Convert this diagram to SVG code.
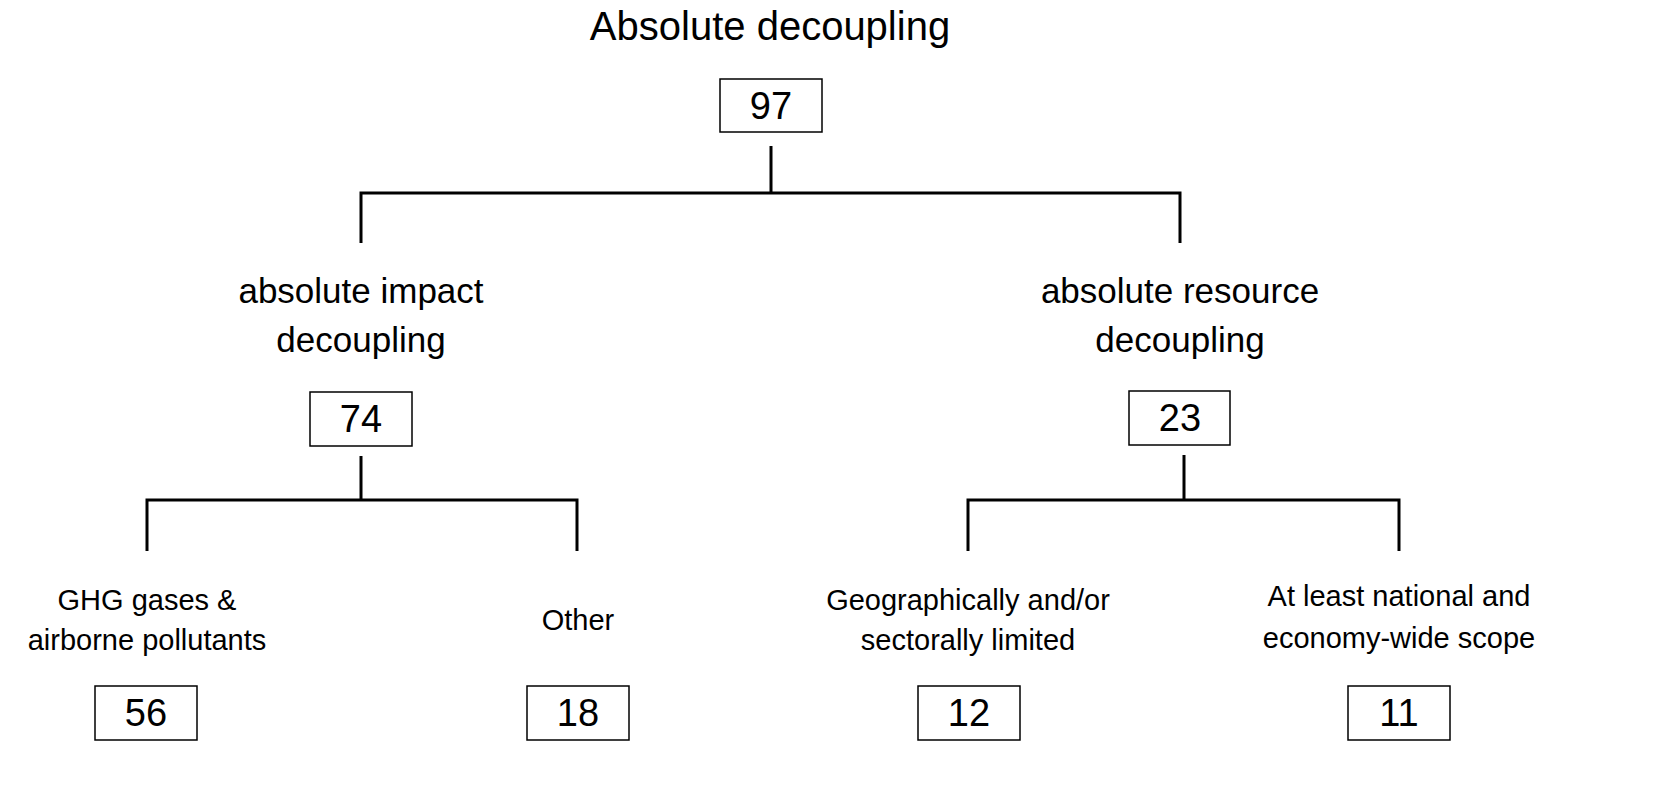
<svg xmlns="http://www.w3.org/2000/svg" width="1667" height="805" viewBox="0 0 1667 805">
<style>
text{font-family:"Liberation Sans",Arial,sans-serif;fill:#000;text-anchor:middle}
.t{font-size:40px}.m{font-size:35px}.s{font-size:29px}.n{font-size:38px}
.b{fill:#fff;stroke:#000;stroke-width:1.5}
path{fill:none;stroke:#000;stroke-width:3}
</style>
<rect width="1667" height="805" fill="#fff"/>
<g id="connectors">
<path d="M771 146V193M361 243V193H1180V243"/>
<path d="M361 456V500M147 551V500H577V551"/>
<path d="M1184 455V500M968 551V500H1399V551"/>
</g>
<g id="root"><text class="t" x="770" y="40">Absolute decoupling</text><rect class="b" x="720" y="79" width="102" height="53"/><text class="n" x="771" y="119">97</text></g>
<g id="impact"><text class="m" x="361" y="303">absolute impact</text><text class="m" x="361" y="352">decoupling</text><rect class="b" x="310" y="392" width="102" height="54"/><text class="n" x="361" y="432">74</text></g>
<g id="resource"><text class="m" x="1180" y="303">absolute resource</text><text class="m" x="1180" y="352">decoupling</text><rect class="b" x="1129" y="391" width="101" height="54"/><text class="n" x="1180" y="431">23</text></g>
<g id="ghg"><text class="s" x="147" y="610">GHG gases &amp;</text><text class="s" x="147" y="650">airborne pollutants</text><rect class="b" x="95" y="686" width="102" height="54"/><text class="n" x="146" y="726">56</text></g>
<g id="other"><text class="s" x="578" y="630">Other</text><rect class="b" x="527" y="686" width="102" height="54"/><text class="n" x="578" y="726">18</text></g>
<g id="geo"><text class="s" x="968" y="610">Geographically and/or</text><text class="s" x="968" y="650">sectorally limited</text><rect class="b" x="918" y="686" width="102" height="54"/><text class="n" x="969" y="726">12</text></g>
<g id="national"><text class="s" x="1399" y="606">At least national and</text><text class="s" x="1399" y="648">economy-wide scope</text><rect class="b" x="1348" y="686" width="102" height="54"/><text class="n" x="1399" y="726">11</text></g>
</svg>
